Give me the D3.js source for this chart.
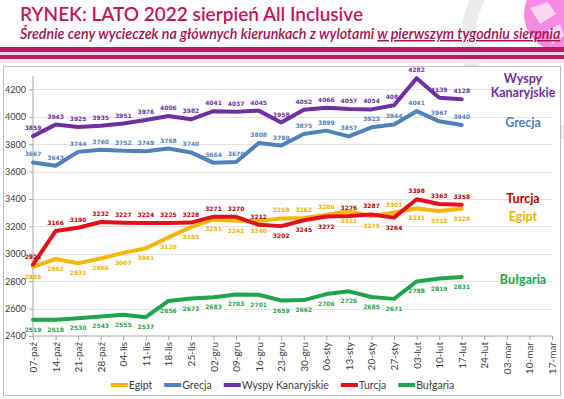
<!DOCTYPE html>
<html>
<head>
<meta charset="utf-8">
<script src="https://cdn.jsdelivr.net/npm/d3@7"></script>
<style>
  html, body { margin: 0; padding: 0; background: #fff; }
  svg { display: block; font-family: Lato, "Open Sans", sans-serif; }
</style>
</head>
<body>
<svg id="chart" width="564" height="399"></svg>
<script>
// dane
const categories = ["07-paź","14-paź","21-paź","28-paź","04-lis","11-lis","18-lis","25-lis","02-gru","09-gru","16-gru","23-gru","30-gru","06-sty","13-sty","20-sty","27-sty","03-lut","10-lut","17-lut","24-lut","03-mar","10-mar","17-mar"];
const egipt = [2905,2962,2931,2966,3007,3041,3120,3195,3251,3242,3240,3258,3262,3286,3311,3275,3301,3331,3312,3328];
const grecja = [3667,3643,3744,3760,3752,3749,3768,3740,3664,3670,3808,3790,3875,3899,3857,3923,3944,4041,3967,3940];
const wyspy = [3859,3943,3925,3935,3951,3976,4006,3982,4041,4037,4045,3958,4052,4066,4057,4054,4084,4282,4139,4128];
const turcja = [2921,3166,3190,3232,3227,3224,3225,3228,3271,3270,3212,3202,3245,3272,3276,3287,3264,3398,3363,3358];
const bulgaria = [2519,2518,2530,2543,2555,2537,2656,2673,2683,2703,2701,2659,2662,2706,2726,2685,2671,2798,2819,2831];
const yTicks = [2400,2600,2800,3000,3200,3400,3600,3800,4000,4200];

const series = [
  { name: "Egipt", values: egipt, color: "#f5b70f", labelColor: "#f0b400", below: true, flip: [11,12,13,16] },
  { name: "Grecja", values: grecja, color: "#4f81bd", labelColor: "#4f81bd", below: false, flip: [] },
  { name: "Wyspy Kanaryjskie", values: wyspy, color: "#7030a0", labelColor: "#7030a0", below: false, flip: [] },
  { name: "Turcja", values: turcja, color: "#e3101c", labelColor: "#c00000", below: false, flip: [11,12,13,16] },
  { name: "Bułgaria", values: bulgaria, color: "#1fa64a", labelColor: "#1fa64a", below: true, flip: [] }
];

const svg = d3.select("#chart");

// tło slajdu
svg.append("circle").attr("cx", 560).attr("cy", 40).attr("r", 92)
  .attr("fill", "none").attr("stroke", "#ececec").attr("stroke-width", 14);
svg.append("circle").attr("cx", 562).attr("cy", 14).attr("r", 38).attr("fill", "#f58ae2");
svg.append("path").attr("d", "M530,8 L548,2 L556,14 L540,24 Z M548,30 L560,24 L564,36 L552,44 Z")
  .attr("fill", "#fbd3f3");
svg.append("rect").attr("x", 0).attr("y", 47).attr("width", 564).attr("height", 5).attr("fill", "#c3155f");
svg.append("rect").attr("x", 0).attr("y", 52).attr("width", 564).attr("height", 3).attr("fill", "#f6d3e3");
svg.append("rect").attr("x", 0).attr("y", 55).attr("width", 564).attr("height", 4).attr("fill", "#c3155f");
svg.append("rect").attr("x", 0).attr("y", 59).attr("width", 564).attr("height", 4).attr("fill", "#fbe6ef");

svg.append("text").attr("x", 20).attr("y", 21)
  .attr("font-size", 19).attr("font-weight", 600).attr("fill", "#c2185b")
  .text("RYNEK: LATO 2022 sierpień All Inclusive");
const sub = svg.append("text").attr("x", 20).attr("y", 39)
  .attr("font-size", 14.3).attr("font-style", "italic").attr("font-weight", 600).attr("fill", "#a3114f");
sub.append("tspan").text("Średnie ceny wycieczek na głównych kierunkach z wylotami ");
sub.append("tspan").attr("text-decoration", "underline").text("w pierwszym tygodniu sierpnia");

// ramka wykresu
svg.append("rect").attr("x", 3.5).attr("y", 66.5).attr("width", 557).attr("height", 329)
  .attr("fill", "#fff").attr("stroke", "#bfbfbf");

// skale
const x = d3.scalePoint().domain(categories).range([33, 552]);
const y = d3.scaleLinear().domain([2400, 4300]).range([336, 75.7]);

// siatka
svg.append("g").selectAll("line").data(yTicks.slice(1)).join("line")
  .attr("x1", 33).attr("x2", 552)
  .attr("y1", d => Math.round(y(d)) + 0.5).attr("y2", d => Math.round(y(d)) + 0.5)
  .attr("stroke", "#e3e3e3");

const axisY = svg.append("g").attr("transform", "translate(33,0)")
  .call(d3.axisLeft(y).tickValues(yTicks).tickSize(4).tickPadding(3).tickFormat(d3.format("d")));
axisY.select(".domain").attr("stroke", "#a6a6a6").attr("d", `M0,${y(4300)}V${y(2400)}`);
axisY.selectAll(".tick line").attr("stroke", "#a6a6a6");
axisY.selectAll("text").attr("font-size", 9).attr("fill", "#404040").attr("font-family", "Lato, sans-serif");

const axisX = svg.append("g").attr("transform", "translate(0,336)")
  .call(d3.axisBottom(x).tickSize(4).tickPadding(4));
axisX.select(".domain").attr("stroke", "#a6a6a6").attr("d", "M33,0H552");
axisX.selectAll(".tick line").attr("stroke", "#a6a6a6");
axisX.selectAll("text")
  .attr("font-size", 10).attr("fill", "#404040").attr("font-family", "Lato, sans-serif")
  .attr("text-anchor", "end").attr("dy", "0.35em")
  .attr("transform", "translate(0,6) rotate(-90)").attr("x", 0).attr("y", 0);

// linie
const line = d3.line().x((d, i) => x(categories[i])).y(d => y(d));
series.forEach(s => {
  svg.append("path").datum(s.values).attr("d", line)
    .attr("fill", "none").attr("stroke", s.color).attr("stroke-width", 4)
    .attr("stroke-linejoin", "round").attr("stroke-linecap", "round");
});

// etykiety danych
series.forEach(s => {
  svg.append("g").selectAll("text").data(s.values).join("text")
    .attr("x", (d, i) => x(categories[i]))
    .attr("y", (d, i) => {
      const below = s.flip.includes(i) ? !s.below : s.below;
      return y(d) + (below ? 12 : -6);
    })
    .attr("text-anchor", "middle").attr("font-size", 6).attr("font-weight", "bold")
    .attr("font-family", "'DejaVu Sans', sans-serif").attr("fill", s.labelColor)
    .text(d => d);
});

// nazwy kierunków po prawej
const sideLabels = [
  { lines: ["Wyspy", "Kanaryjskie"], value: 4250, color: "#7030a0" },
  { lines: ["Grecja"], value: 3925, color: "#4f81bd" },
  { lines: ["Turcja"], value: 3368, color: "#c00000" },
  { lines: ["Egipt"], value: 3240, color: "#f0b400" },
  { lines: ["Bułgaria"], value: 2782, color: "#1fa64a" }
];
sideLabels.forEach(l => {
  const t = svg.append("text").attr("x", 523).attr("y", y(l.value))
    .attr("text-anchor", "middle").attr("font-size", 12.5).attr("font-weight", "bold")
    .attr("fill", l.color);
  l.lines.forEach((s, i) => t.append("tspan").attr("x", 523).attr("dy", i ? 14 : 0).text(s));
});

// legenda
const legend = svg.append("g").attr("transform", "translate(0,385)");
let lx = 0;
series.forEach(s => {
  const g = legend.append("g").attr("transform", `translate(${lx},0)`);
  g.append("line").attr("x1", 0).attr("x2", 17).attr("stroke", s.color).attr("stroke-width", 4);
  const t = g.append("text").attr("x", 18).attr("dy", "0.35em")
    .attr("font-size", 10.5).attr("fill", "#404040").text(s.name);
  lx += 18 + t.node().getComputedTextLength() + 12;
});
legend.attr("transform", `translate(${(123 + 442 - (lx - 12)) / 2},385)`);
</script>
</body>
</html>
